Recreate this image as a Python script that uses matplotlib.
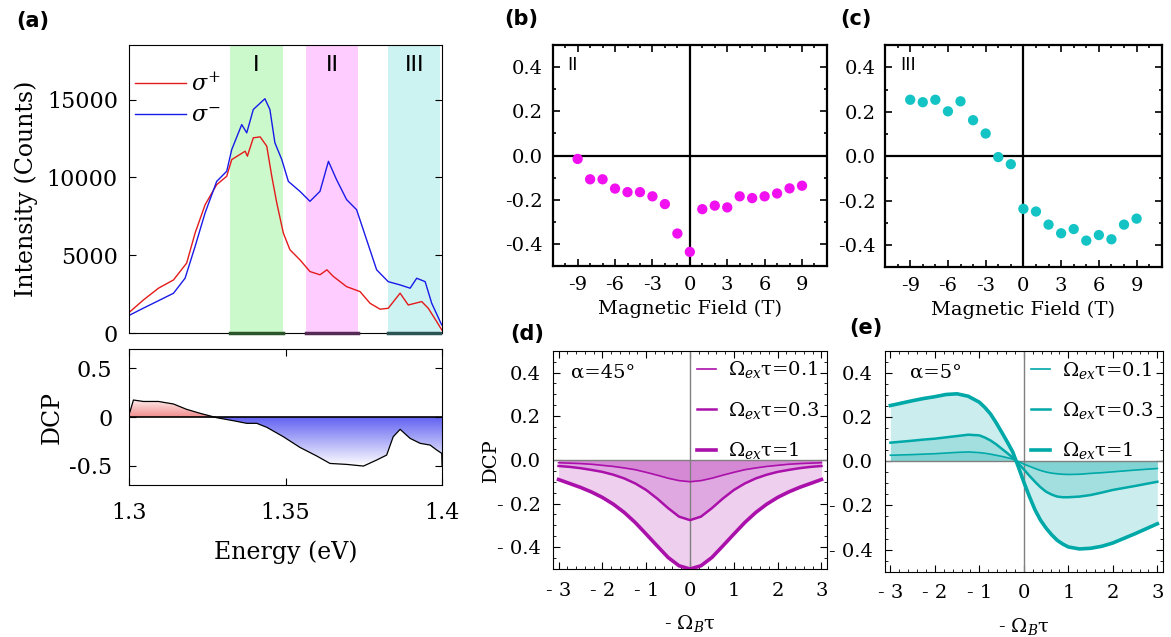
import numpy as np
import matplotlib.pyplot as plt
from matplotlib.patches import Polygon
from matplotlib.colors import LinearSegmentedColormap
from matplotlib.ticker import MultipleLocator

plt.rcParams['font.family'] = 'DejaVu Serif'
plt.rcParams['mathtext.fontset'] = 'dejavuserif'
plt.rcParams['axes.unicode_minus'] = False

# ---- panel (a): PL spectra ----
e_plus = [1.3003, 1.3046, 1.3094, 1.3142, 1.3184, 1.3211, 1.3243, 1.3280, 1.3312, 1.3328,
          1.3371, 1.3378, 1.3397, 1.3419, 1.3440, 1.3456, 1.3472, 1.3493, 1.3514, 1.3546,
          1.3578, 1.3610, 1.3632, 1.3653, 1.3695, 1.3738, 1.3770, 1.3802, 1.3828, 1.3866,
          1.3892, 1.3935, 1.3956, 1.3983, 1.3999]
i_plus = [1370, 2125, 2880, 3410, 4490, 6420, 8240, 9530, 10070, 11140,
          11680, 11360, 12540, 12600, 12000, 10070, 8350, 6420, 5350, 4700,
          3950, 3740, 4060, 3630, 2980, 2660, 1910, 1530, 1590, 2560,
          1800, 2020, 1590, 730, 200]
e_minus = [1.3003, 1.3046, 1.3088, 1.3142, 1.3179, 1.3211, 1.3243, 1.3280, 1.3312, 1.3328,
           1.3360, 1.3376, 1.3397, 1.3434, 1.3450, 1.3466, 1.3488, 1.3509, 1.3546, 1.3578,
           1.3610, 1.3637, 1.3663, 1.3695, 1.3727, 1.3759, 1.3791, 1.3828, 1.3866, 1.3898,
           1.3919, 1.3946, 1.3967, 1.3999]
i_minus = [1160, 1600, 2016, 2555, 3520, 5560, 7720, 9740, 10390, 11780,
           13390, 12860, 14360, 15050, 14360, 12220, 11140, 9740, 9100, 8460,
           9100, 11030, 9850, 8570, 7920, 5990, 4060, 3300, 3090, 2880,
           3520, 3300, 1910, 515]
bands = [(1.3323, 1.3492, 'I'), (1.3565, 1.3732, 'II'), (1.3828, 1.3994, 'III')]
band_colors = ['#ccf9cc', '#ffccff', '#ccf2f2']
band_dark = ['#2b552b', '#552b55', '#2b5555']

e_dcp = [1.3000, 1.3003, 1.3014, 1.3046, 1.3094, 1.3142, 1.3184, 1.3227, 1.3280, 1.3333,
         1.3376, 1.3408, 1.3440, 1.3493, 1.3546, 1.3600, 1.3642, 1.3696, 1.3749, 1.3791,
         1.3823, 1.3844, 1.3866, 1.3898, 1.3930, 1.3962, 1.3983, 1.3999, 1.4000]
dcp = [0.03, 0.055, 0.175, 0.16, 0.16, 0.134, 0.079, 0.038, -0.007, -0.038,
       -0.065, -0.065, -0.106, -0.203, -0.313, -0.402, -0.478, -0.488, -0.505, -0.443,
       -0.392, -0.203, -0.127, -0.22, -0.271, -0.289, -0.34, -0.374, -0.5]

# ---- panels (b), (c): DCP vs field ----
field = [-9, -8, -7, -6, -5, -4, -3, -2, -1, 0, 1, 2, 3, 4, 5, 6, 7, 8, 9]
dcp_II = [-0.015, -0.107, -0.107, -0.149, -0.165, -0.165, -0.184, -0.219, -0.352, -0.435,
          -0.242, -0.226, -0.234, -0.184, -0.192, -0.184, -0.171, -0.148, -0.136]
dcp_III = [0.254, 0.243, 0.254, 0.202, 0.247, 0.162, 0.102, -0.004, -0.036, -0.237,
           -0.249, -0.308, -0.347, -0.328, -0.380, -0.355, -0.374, -0.308, -0.281]

# ---- panel (d): alpha = 45 deg ----
wd = [-3.0, -2.75, -2.5, -2.25, -2.0, -1.75, -1.5, -1.25, -1.0, -0.75, -0.5, -0.25, 0.0,
      0.25, 0.5, 0.75, 1.0, 1.25, 1.5, 1.75, 2.0, 2.25, 2.5, 2.75, 3.0]
d_01 = [-0.013, -0.015, -0.017, -0.020, -0.025, -0.030, -0.037, -0.045, -0.057, -0.070, -0.084, -0.095, -0.100,
        -0.095, -0.084, -0.070, -0.057, -0.045, -0.037, -0.030, -0.025, -0.020, -0.017, -0.015, -0.013]
d_03 = [-0.028, -0.032, -0.038, -0.046, -0.055, -0.068, -0.085, -0.108, -0.138, -0.177, -0.221, -0.260, -0.276,
        -0.260, -0.221, -0.177, -0.138, -0.108, -0.085, -0.068, -0.055, -0.046, -0.038, -0.032, -0.028]
d_1 = [-0.090, -0.108, -0.126, -0.147, -0.172, -0.203, -0.241, -0.287, -0.340, -0.394, -0.447, -0.485, -0.500,
       -0.485, -0.447, -0.394, -0.340, -0.287, -0.241, -0.203, -0.172, -0.147, -0.126, -0.108, -0.090]

# ---- panel (e): alpha = 5 deg ----
we = [-3.0, -2.5, -2.25, -2.0, -1.75, -1.5, -1.25, -1.0, -0.875, -0.75, -0.625, -0.5, -0.375, -0.25, -0.125, 0.0,
      0.125, 0.25, 0.375, 0.5, 0.625, 0.75, 0.875, 1.0, 1.25, 1.5, 1.75, 2.0, 2.5, 3.0]
e_01 = [0.027, 0.030, 0.032, 0.034, 0.037, 0.040, 0.042, 0.039, 0.036, 0.032, 0.027, 0.022, 0.016, 0.010, -0.001, -0.013,
        -0.023, -0.033, -0.042, -0.049, -0.054, -0.057, -0.059, -0.060, -0.059, -0.055, -0.052, -0.048, -0.040, -0.033]
e_03 = [0.084, 0.093, 0.098, 0.102, 0.108, 0.114, 0.120, 0.117, 0.107, 0.094, 0.077, 0.057, 0.037, 0.016, -0.010, -0.037,
        -0.066, -0.093, -0.118, -0.138, -0.151, -0.160, -0.163, -0.163, -0.160, -0.153, -0.142, -0.130, -0.112, -0.093]
e_1 = [0.252, 0.274, 0.284, 0.292, 0.302, 0.305, 0.294, 0.267, 0.243, 0.214, 0.175, 0.132, 0.088, 0.042, -0.025, -0.095,
       -0.160, -0.220, -0.267, -0.303, -0.333, -0.358, -0.375, -0.388, -0.397, -0.394, -0.385, -0.370, -0.328, -0.283]

leg_labels = [r'$\Omega_{ex}$τ=0.1', r'$\Omega_{ex}$τ=0.3', r'$\Omega_{ex}$τ=1']


def gradient_fill(ax, x, y, c0, c1, y0, y1):
    x = np.asarray(x)
    y = np.asarray(y)
    verts = np.vstack([np.column_stack([x, y]), [[x[-1], 0], [x[0], 0]]])
    poly = Polygon(verts, closed=True, facecolor='none', edgecolor='none')
    ax.add_patch(poly)
    cmap = LinearSegmentedColormap.from_list('g', [c0, c1])
    grad = np.linspace(0, 1, 256).reshape(-1, 1)
    im = ax.imshow(grad, extent=[x[0], x[-1], y0, y1], origin='lower', aspect='auto',
                   cmap=cmap, zorder=1, interpolation='bilinear')
    im.set_clip_path(poly)


fig = plt.figure(figsize=(11.71, 6.37), dpi=100)

# (a) top
ax_a = fig.add_axes([0.1102, 0.4772, 0.2673, 0.4521])
for (s, e, lab), c, dc in zip(bands, band_colors, band_dark):
    ax_a.axvspan(s, e, color=c, lw=0, zorder=0)
    ax_a.plot([s, e], [0, 0], color=dc, lw=2.5, zorder=3, clip_on=False)
    ax_a.text((s + e) / 2, 17200, lab, ha='center', va='center', fontsize=16, family='DejaVu Sans')
ax_a.plot(e_plus, i_plus, color='#e41a1a', lw=1, label=r'$\sigma^{+}$', zorder=2)
ax_a.plot(e_minus, i_minus, color='#1a1ae8', lw=1, label=r'$\sigma^{-}$', zorder=2)
ax_a.set_xlim(1.3, 1.4)
ax_a.set_ylim(0, 18500)
ax_a.set_yticks([0, 5000, 10000, 15000])
ax_a.tick_params(axis='y', direction='in', right=True, labelsize=16, pad=8, length=5)
ax_a.tick_params(axis='x', bottom=False, labelbottom=False)
ax_a.set_ylabel('Intensity (Counts)', fontsize=17, labelpad=6)
ax_a.legend(loc='upper left', bbox_to_anchor=(0.02, 0.905), frameon=False, fontsize=16,
            handlelength=2.3, handletextpad=0.2, labelspacing=0.4, borderaxespad=0, borderpad=0)

# (a) bottom
ax_p = fig.add_axes([0.1102, 0.2386, 0.2673, 0.2135])
e_arr = np.array(e_dcp)
d_arr = np.array(dcp)
gradient_fill(ax_p, e_arr, np.clip(d_arr, 0, None), '#f08c8c', '#fff0f0', 0, 0.18)
gradient_fill(ax_p, e_arr, np.clip(d_arr, None, 0), '#ffffff', '#6262f2', -0.5, 0)
ax_p.plot(e_dcp, dcp, color='black', lw=0.9, zorder=3)
ax_p.axhline(0, color='black', lw=1.2, zorder=3)
ax_p.set_xlim(1.3, 1.4)
ax_p.set_ylim(-0.7, 0.7)
ax_p.set_xticks([1.3, 1.35, 1.4])
ax_p.set_xticklabels(['1.3', '1.35', '1.4'])
ax_p.set_yticks([-0.5, 0, 0.5])
ax_p.set_yticklabels(['-0.5', '0', '0.5'])
ax_p.tick_params(direction='in', top=True, right=True, labelsize=16, pad=12, length=5)
ax_p.set_xlabel('Energy (eV)', fontsize=17, labelpad=12)
ax_p.set_ylabel('DCP', fontsize=17, labelpad=4)


def field_panel(rect, y, color, tag, tag_x):
    ax = fig.add_axes(rect)
    ax.axhline(0, color='black', lw=1.6, zorder=1)
    ax.axvline(0, color='black', lw=1.6, zorder=1)
    ax.scatter(field, y, s=55, color=color, edgecolors='none', zorder=3)
    ax.set_xlim(-11, 11)
    ax.set_ylim(-0.5, 0.5)
    ax.set_xticks([-9, -6, -3, 0, 3, 6, 9])
    ax.set_yticks([-0.4, -0.2, 0.0, 0.2, 0.4])
    ax.set_yticklabels(['-0.4', '-0.2', '0.0', '0.2', '0.4'])
    ax.xaxis.set_minor_locator(MultipleLocator(1))
    ax.yaxis.set_minor_locator(MultipleLocator(0.1))
    ax.tick_params(which='both', direction='in', top=True, right=True, width=1.2)
    ax.tick_params(which='major', length=5, labelsize=14, pad=7)
    ax.tick_params(which='minor', length=2.5)
    for sp in ax.spines.values():
        sp.set_linewidth(1.6)
    ax.set_xlabel('Magnetic Field (T)', fontsize=14, labelpad=4)
    ax.text(tag_x, 0.41, tag, fontsize=13, family='DejaVu Sans', ha='left', va='center')
    return ax


field_panel([0.4720, 0.5820, 0.2342, 0.3474], dcp_II, '#f010f0', 'II', -9.8)
field_panel([0.7558, 0.5804, 0.2363, 0.3488], dcp_III, '#14c4c4', 'III', -9.8)


def theory_panel(rect, x, curves, color, alpha_txt, alpha_x, ylabel):
    ax = fig.add_axes(rect)
    widths = [1.2, 1.8, 2.6]
    for yv, lw, lab in zip(curves, widths, leg_labels):
        ax.fill_between(x, 0, yv, color=color, alpha=0.2, lw=0, zorder=1)
        ax.plot(x, yv, color=color, lw=lw, label=lab, zorder=3)
    ax.axhline(0, color='#808080', lw=1, zorder=2)
    ax.axvline(0, color='#808080', lw=1, zorder=2)
    ax.set_xlim(-3.12, 3.12)
    ax.set_ylim(-0.5, 0.5)
    ax.set_xticks([-3, -2, -1, 0, 1, 2, 3])
    ax.set_xticklabels(['- 3', '- 2', '- 1', '0', '1', '2', '3'])
    ax.set_yticks([-0.4, -0.2, 0.0, 0.2, 0.4])
    ax.set_yticklabels(['- 0.4', '- 0.2', '0.0', '0.2', '0.4'])
    ax.xaxis.set_minor_locator(MultipleLocator(0.2))
    ax.yaxis.set_minor_locator(MultipleLocator(0.05))
    ax.tick_params(which='both', direction='in', top=True, right=True)
    ax.tick_params(which='major', length=5, labelsize=14, pad=9)
    ax.tick_params(which='minor', length=2.5)
    ax.set_xlabel(r'- $\Omega_B$τ', fontsize=14, labelpad=10)
    if ylabel:
        ax.set_ylabel('DCP', fontsize=14)
        ax.yaxis.set_label_coords(-0.195, 0.5)
    ax.text(alpha_x, 0.40, alpha_txt, fontsize=14, ha='left', va='center')
    ax.legend(loc='upper left', bbox_to_anchor=(0.525, 0.96), frameon=False, fontsize=14,
              handlelength=1.0, handletextpad=0.6, labelspacing=1.0, borderaxespad=0, borderpad=0)
    return ax


theory_panel([0.4725, 0.1067, 0.2335, 0.3427], wd, [d_01, d_03, d_1], '#aa10aa', 'α=45°', -2.72, True)
theory_panel([0.7558, 0.1025, 0.2371, 0.3469], we, [e_01, e_03, e_1], '#00a8a8', 'α=5°', -2.57, False)

# panel letters
for txt, x, y in [('(a)', 33, 21), ('(b)', 521, 19), ('(c)', 856, 19), ('(d)', 527, 334), ('(e)', 866, 328)]:
    fig.text(x / 1171, 1 - y / 637, txt, fontsize=15, fontweight='bold', family='DejaVu Sans',
             ha='center', va='center')

fig.savefig('out.png', dpi=100)
